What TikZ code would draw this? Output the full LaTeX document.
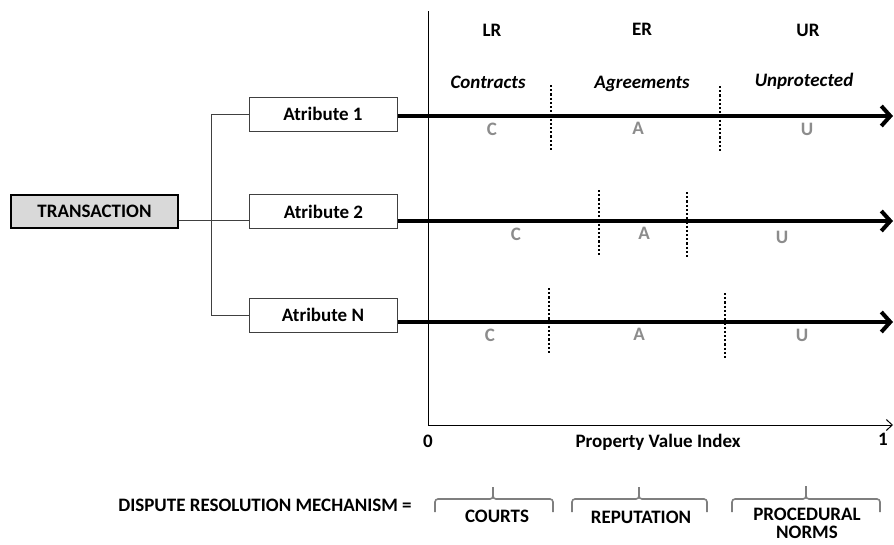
\documentclass[tikz,border=0pt]{standalone}
\usepackage{fontspec}
\setmainfont{Carlito}
\usetikzlibrary{arrows.meta}
\definecolor{lblgray}{HTML}{8C8C8C}
\definecolor{brgray}{HTML}{7F7F7F}
\definecolor{trfill}{HTML}{D9D9D9}
\begin{document}
\begin{tikzpicture}[x=1pt,y=-1pt,
  font=\fontsize{19}{21}\selectfont\bfseries,
  transbox/.style={draw=black, line width=2pt, fill=trfill, minimum width=167pt, minimum height=33pt, inner sep=0pt},
  attbox/.style={draw=black!75, line width=1pt, fill=white, minimum width=148pt, minimum height=34pt, inner sep=0pt},
  conn/.style={draw=black!75, line width=1pt},
  heavy/.style={line width=4pt, -{Straight Barb[length=9pt,width=20pt]}},
  axis/.style={line width=1pt},
  dots/.style={line width=2.4pt, dash pattern=on 2.2pt off 2pt},
  lbl/.style={text=lblgray, inner sep=0pt},
  txt/.style={inner sep=0pt},
  itxt/.style={inner sep=0pt, font=\fontsize{19}{21}\selectfont\bfseries\itshape},
  brace/.style={draw=brgray, line width=1.6pt, rounded corners=3pt},
]
\useasboundingbox (0,0) rectangle (894,544);

% boxes
\node[transbox] (tr) at (94.5,211.5) {TRANSACTION};
\node[attbox] (a1) at (323,114) {Atribute 1};
\node[attbox] (a2) at (323.5,211.5) {Atribute 2};
\node[attbox] (aN) at (323,315) {Atribute N};

% tree connectors
\coordinate (j) at (211,220);
\draw[conn] (tr.east |- j) -- (a2.west |- j);
\draw[conn] (a1.west) -| (j);
\draw[conn] (aN.west) -| (j);

% axes
\coordinate (top) at (428,11);
\coordinate (origin) at (428,425);
\coordinate (xend) at (893,425);
\draw[axis, -{Straight Barb[length=6pt,width=11pt]}] (top) -- (origin) -- (xend);
\node[txt] (zero) at (428,441) {0};
\node[txt] (one) at (883,439) {1};
\node[txt] (pvi) at (658,442) {Property Value Index};

% heavy arrows
\coordinate (e1) at (893,116);
\coordinate (e2) at (893,221);
\coordinate (e3) at (893,322);
\draw[heavy] (a1.east |- e1) -- (e1);
\draw[heavy] (a2.east |- e2) -- (e2);
\draw[heavy] (aN.east |- e3) -- (e3);

% header labels
\node[txt] (lr) at (492,30) {LR};
\node[txt] (er) at (642,29) {ER};
\node[txt] (ur) at (808,30) {UR};
\node[itxt] (contr) at (488,82) {Contracts};
\node[itxt] (agr) at (642,84) {Agreements};
\node[itxt] (unp) at (804,81) {Unprotected};

% dotted separators
\draw[dots] (551,85) -- (551,150);
\draw[dots] (720,86) -- (720,152);
\draw[dots] (599,190) -- (599,257);
\draw[dots] (687,192) -- (687,257);
\draw[dots] (549,288) -- (549,354);
\draw[dots] (725,293) -- (725,359);

% C A U labels
\node[lbl] (c1) at (492,129) {C};
\node[lbl] (m1) at (638,128) {A};
\node[lbl] (u1) at (807,129) {U};
\node[lbl] (c2) at (516,234) {C};
\node[lbl] (m2) at (644,233) {A};
\node[lbl] (u2) at (782,237) {U};
\node[lbl] (c3) at (490,335) {C};
\node[lbl] (m3) at (639,334) {A};
\node[lbl] (u3) at (802,335) {U};

% dispute resolution
\node[txt] (drm) at (265,505) {DISPUTE RESOLUTION MECHANISM =};
\draw[brace] (435,512) |- (493,499) -- (493,487);
\draw[brace] (553,512) |- (493,499) -- (493,487);
\draw[brace] (572,512) |- (639,499) -- (639,487);
\draw[brace] (707,512) |- (639,499) -- (639,487);
\draw[brace] (732,512) |- (806,499) -- (806,486);
\draw[brace] (880,512) |- (806,499) -- (806,486);
\node[txt] (courts) at (497,516) {COURTS};
\node[txt] (rep) at (641,517) {REPUTATION};
\node[txt] (proc) at (807,514) {PROCEDURAL};
\node[txt] (norms) at (807,532) {NORMS};
\end{tikzpicture}
\end{document}
